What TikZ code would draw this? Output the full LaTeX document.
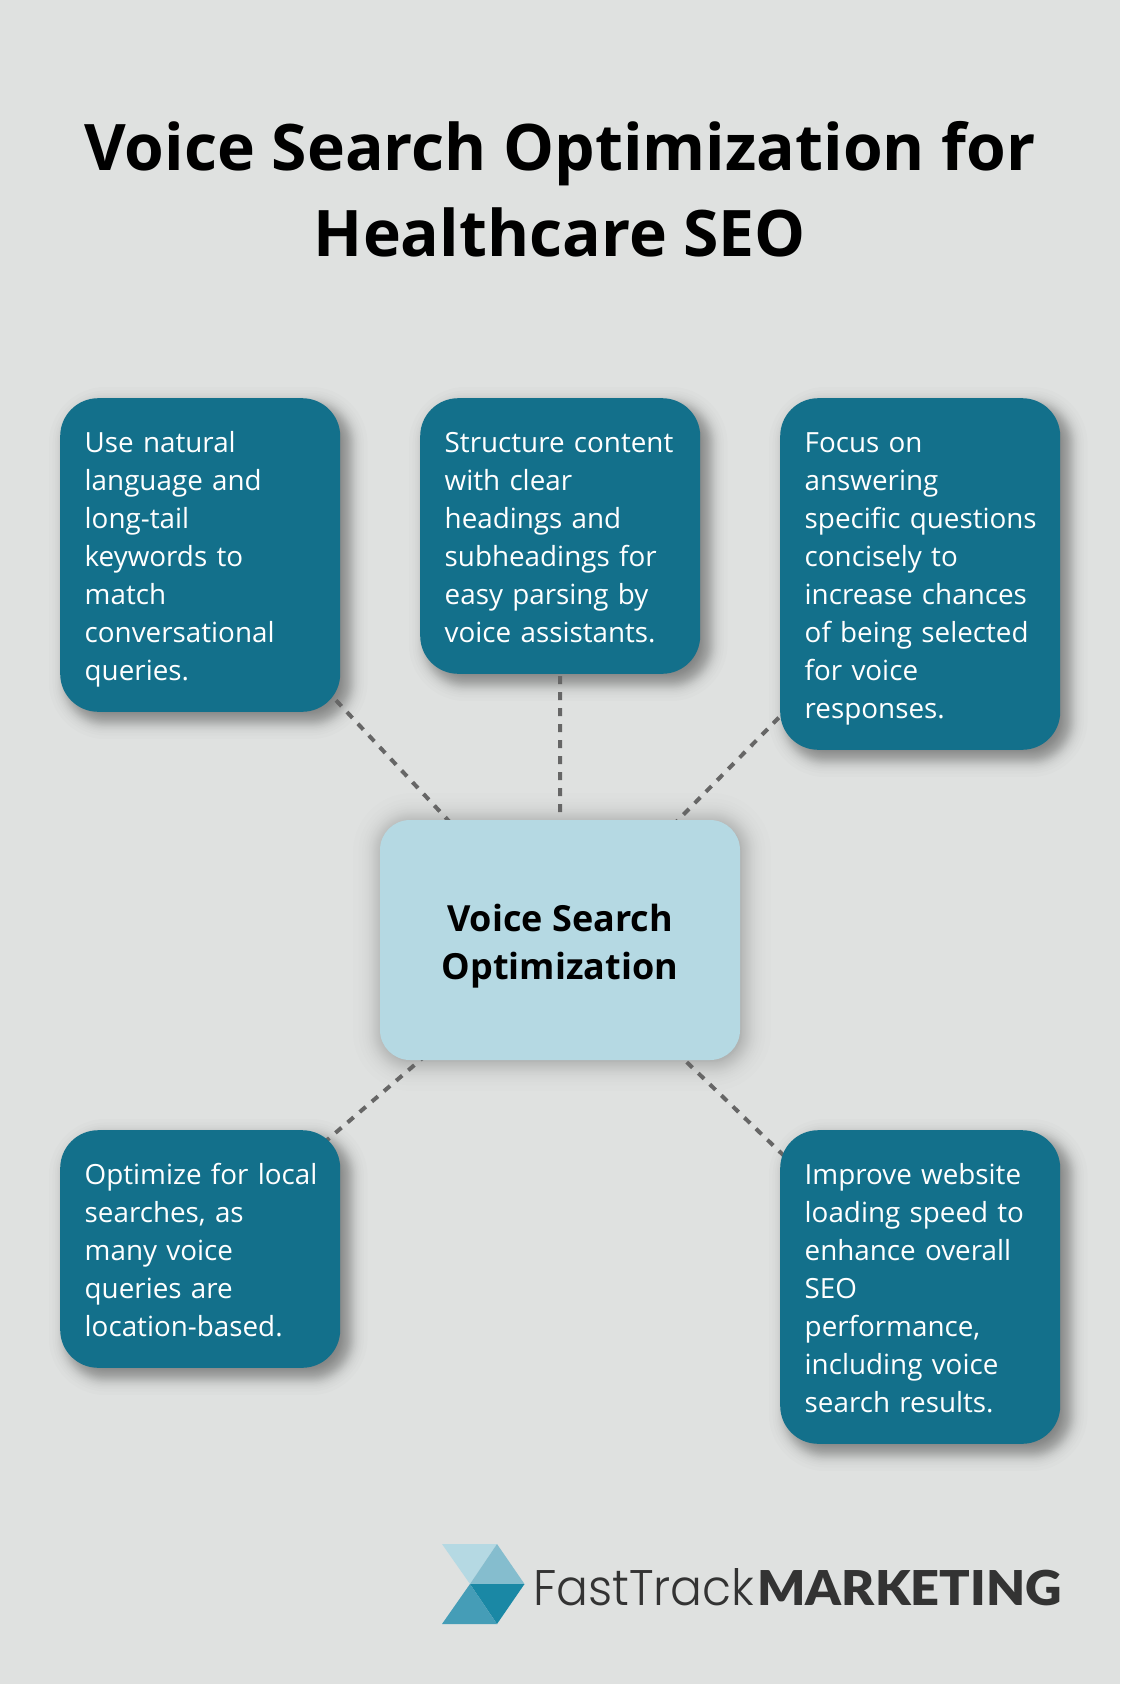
\documentclass[tikz,border=0pt]{standalone}
\usepackage{fontspec}
\setmainfont{Open Sans}
\newfontfamily\tracklight[FakeStretch=0.945]{Poppins Light}
\newfontfamily\trackheavy[FakeStretch=1.052]{Lato Black}
\usetikzlibrary{backgrounds}
\definecolor{pagebg}{HTML}{DFE1E0}
\definecolor{tipteal}{HTML}{13708B}
\definecolor{hubblue}{HTML}{B5D9E3}
\definecolor{linkgrey}{HTML}{666666}
\definecolor{logoA}{HTML}{B5D9E3}
\definecolor{logoB}{HTML}{85BDCE}
\definecolor{logoC}{HTML}{1A88A5}
\definecolor{logoD}{HTML}{459DB7}
\definecolor{trackgrey}{HTML}{333333}
\newcommand{\tipstrut}{\rule[-7.1pt]{0pt}{38pt}}
\newcommand{\hubtop}{\rule{0pt}{40pt}}
\newcommand{\hubbottom}{\rule[-10pt]{0pt}{10pt}}
% stacked soft shadow behind a named box
\newcommand{\softshadow}[5]{%
	\foreach \spread in {-16,-13,-11,-9.5,-8.5,-7.5,-7,-6,-5.5,-5,-4.5,-4,-3.5,-3,-2.5,-2,-1.5,-1,-0.5,0,0,0.5,1,1.5,2,2.5,3,3.5,4,4.5,5,5.5,6,7,7.5,8.5,9.5,11,13,16}
		\fill[black,opacity=#3,rounded corners=#5 pt+#4*\spread pt]
			([shift={(#2-#4*\spread,#2-#4*\spread)}]#1.north west) rectangle ([shift={(#2+#4*\spread,#2+#4*\spread)}]#1.south east);%
}
\tikzset{
	tipbox/.style={rectangle,anchor=north west,fill=tipteal,text=white,rounded corners=38pt,text width=235pt,inner xsep=22.5pt,inner ysep=23.8pt,align=left,font=\fontsize{27.8}{38}\selectfont,execute at begin node={\leftskip=2pt\relax\tipstrut},execute at end node=\tipstrut},
	hubbox/.style={rectangle,fill=hubblue,rounded corners=30pt,minimum width=360pt,minimum height=240pt,align=center,font=\bfseries\fontsize{36}{48}\selectfont},
	link/.style={draw=linkgrey,line width=4pt,dash pattern=on 8pt off 8pt}
}
\begin{document}
\begin{tikzpicture}[x=1pt,y=-1pt]
		\useasboundingbox (0,0) rectangle (1120,1684);
		\node[align=center,font=\bfseries\fontsize{64.2}{86}\selectfont] (title) at (560,189) {Voice Search Optimization for\\Healthcare SEO};
		\node[hubbox] (hub) at (560,940) {\hubtop Voice Search\\Optimization\hubbottom};
		\node[tipbox] (natural) at (60,398) {Use natural\\language and\\long-tail\\keywords to\\match\\conversational\\queries.};
		\node[tipbox] (structure) at (420,398) {Structure content\\with clear\\headings and\\subheadings for\\easy parsing by\\voice assistants.};
		\node[tipbox] (answers) at (780,398) {Focus on\\answering\\specific questions\\concisely to\\increase chances\\of being selected\\for voice\\responses.};
		\node[tipbox] (local) at (60,1130) {Optimize for local\\searches, as\\many voice\\queries are\\location-based.};
		\node[tipbox] (speed) at (780,1130) {Improve website\\loading speed to\\enhance overall\\SEO\\performance,\\including voice\\search results.};
		\begin{pgfonlayer}{background}
		\fill[pagebg] (0,0) rectangle (1120,1684);
		\foreach \tip in {natural,structure,answers,local,speed}{
			\softshadow{\tip}{8}{0.01}{1.2}{38}
		}
		\softshadow{hub}{2}{0.007}{1.8}{30}
		\foreach \tip in {natural,structure,answers,local,speed}
			\draw[link] (hub.center) -- (\tip.center);
		\end{pgfonlayer}
		% logo
		\coordinate (la) at (442,1544);
		\coordinate (lb) at (497,1544);
		\coordinate (lc) at (524.5,1584);
		\coordinate (ld) at (470,1584);
		\coordinate (le) at (442,1624);
		\coordinate (lf) at (497,1624);
		\fill[logoA] (la) -- (lb) -- (ld) -- cycle;
		\fill[logoB] (lb) -- (lc) -- (ld) -- cycle;
		\fill[logoC] (ld) -- (lc) -- (lf) -- cycle;
		\fill[logoD] (ld) -- (lf) -- (le) -- cycle;
		\node[anchor=base west,inner sep=0pt,text=trackgrey,font=\tracklight\fontsize{50}{50}\selectfont] (fast) at (533,1605) {FastTrack};
		\node[anchor=base east,inner sep=0pt,text=trackgrey,font=\trackheavy\fontsize{48}{48}\selectfont] (marketing) at (1062,1605) {MARKETING};
\end{tikzpicture}
\end{document}
